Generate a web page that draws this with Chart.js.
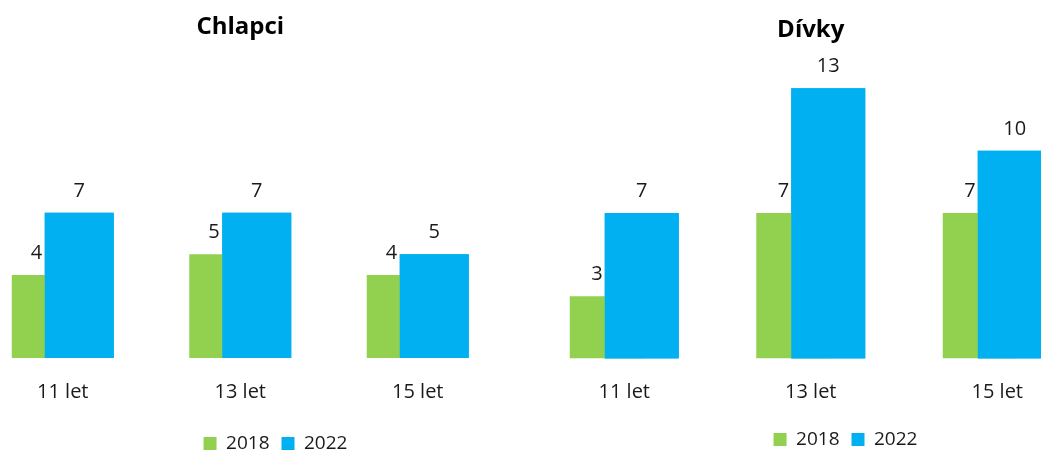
<!DOCTYPE html>
<html>
<head>
<meta charset="utf-8">
<script src="https://cdn.jsdelivr.net/npm/chart.js@4/dist/chart.umd.min.js"></script>
<style>
  html, body { margin: 0; padding: 0; background: #fff; overflow: hidden; width: 1041px; height: 452px; }
  canvas { position: absolute; top: 0; }
  #boys { left: -26px; }
  #girls { left: 531px; }
</style>
</head>
<body>
<canvas id="boys" width="603" height="463"></canvas>
<canvas id="girls" width="629" height="459"></canvas>
<script>
const categories = ['11 let', '13 let', '15 let'];
const seriesLabels = ['2018', '2022'];
const panelTitles = ['Chlapci', 'Dívky'];
const boys2018 = [4, 5, 4];
const boys2022 = [7, 7, 5];
const girls2018 = [3, 7, 7];
const girls2022 = [7, 13, 10];
const yMax = 14;

const GREEN = '#92D050';
const BLUE = '#00B0F0';
const FONT = "'Open Sans', 'Noto Sans', sans-serif";

// draw 2022 on top of the overlapping 2018 bars, then the value labels
const overlapAndLabels = {
  id: 'overlapAndLabels',
  afterDatasetsDraw(chart) {
    const ctx = chart.ctx;
    chart.getDatasetMeta(1).controller.draw();
    ctx.save();
    ctx.font = '20px ' + FONT;
    ctx.fillStyle = '#1a1a1a';
    ctx.textBaseline = 'alphabetic';
    chart.data.datasets.forEach((ds, di) => {
      const meta = chart.getDatasetMeta(di);
      meta.data.forEach((bar, i) => {
        const v = ds.data[i];
        if (di === 0) {
          ctx.textAlign = 'right';
          ctx.fillText(String(v), bar.x - 4, bar.y - 16);
        } else {
          ctx.textAlign = 'center';
          ctx.fillText(String(v), bar.x, bar.y - 16);
        }
      });
    });
    ctx.restore();
  }
};

function makeChart(id, title, d2018, d2022, cfg) {
  return new Chart(document.getElementById(id), {
    type: 'bar',
    data: {
      labels: categories,
      datasets: [
        { label: seriesLabels[0], data: d2018, backgroundColor: GREEN,
          categoryPercentage: cfg.catPct, barPercentage: cfg.barPct },
        { label: seriesLabels[1], data: d2022, backgroundColor: BLUE,
          categoryPercentage: cfg.catPct, barPercentage: cfg.barPct }
      ]
    },
    options: {
      responsive: false,
      animation: false,
      devicePixelRatio: 1,
      layout: { padding: 0 },
      scales: {
        x: {
          grid: { display: false, drawTicks: false },
          border: { display: false },
          ticks: { color: '#1a1a1a', font: { family: FONT, size: 20 }, padding: 22 },
          afterFit: (axis) => { axis.height = cfg.axisH; }
        },
        y: {
          position: 'right', min: 0, max: yMax,
          ticks: { display: false },
          grid: { display: false, drawTicks: false },
          border: { display: false },
          afterFit: (axis) => { axis.width = cfg.padRight; }
        }
      },
      plugins: {
        title: {
          display: true, text: title, fullSize: false, color: '#000',
          font: { family: FONT, size: 24, weight: 'bold' },
          padding: { top: cfg.tTop, bottom: cfg.tBottom }
        },
        legend: {
          position: 'bottom',
          labels: { boxWidth: 13, boxHeight: 13, padding: 12, color: '#1a1a1a',
                    font: { family: FONT, size: 19 } }
        },
        tooltip: { enabled: false }
      }
    },
    plugins: [overlapAndLabels]
  });
}

makeChart('boys', panelTitles[0], boys2018, boys2022,
  { catPct: 0.3718, barPct: 2.091, padRight: 70.5, axisH: 64, tTop: 13, tBottom: 25.7 });
makeChart('girls', panelTitles[1], girls2018, girls2022,
  { catPct: 0.3753, barPct: 2.114, padRight: 69.5, axisH: 59.5, tTop: 16, tBottom: 22.7 });
</script>
</body>
</html>
